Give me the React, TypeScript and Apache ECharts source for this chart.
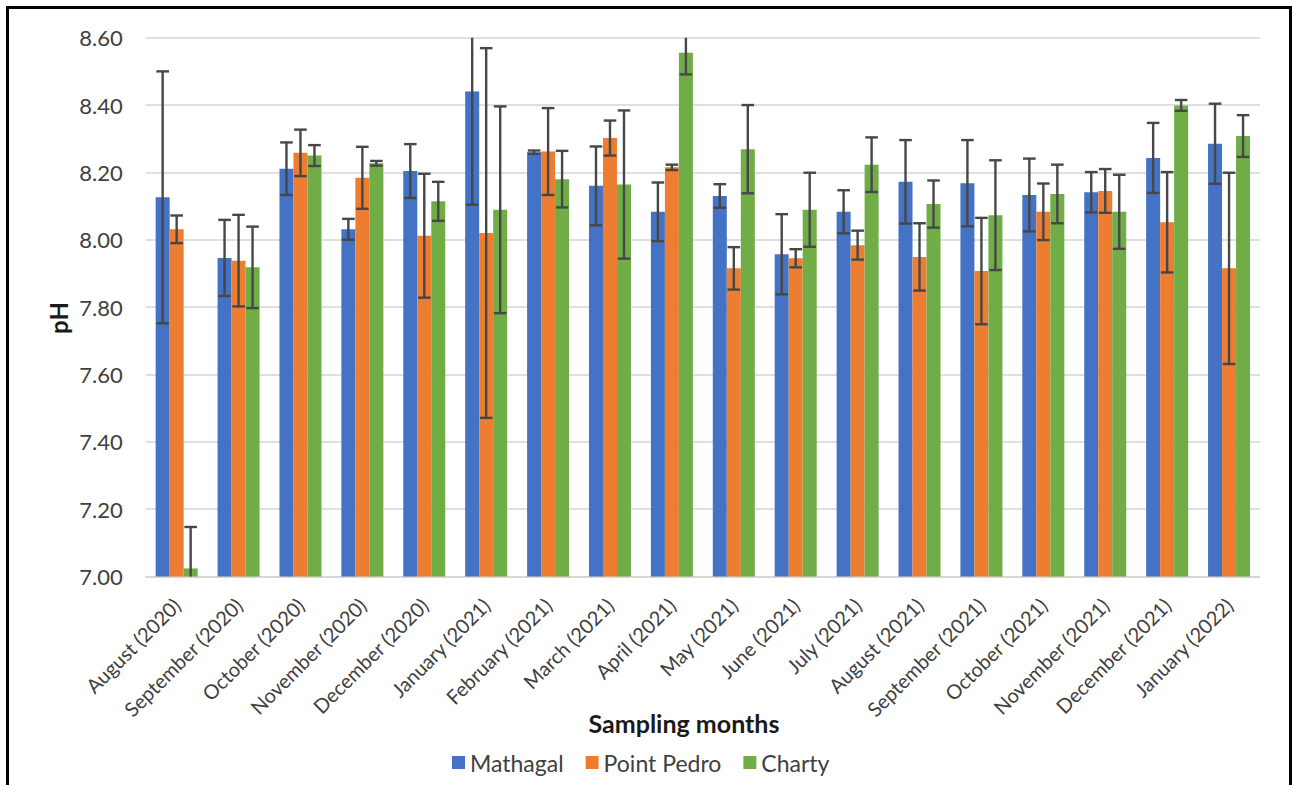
import React, { useEffect, useRef } from "react";
import * as echarts from "echarts";

const categories = [
  "August (2020)", "September (2020)", "October (2020)", "November (2020)", "December (2020)",
  "January (2021)", "February (2021)", "March (2021)", "April (2021)", "May (2021)", "June (2021)",
  "July (2021)", "August (2021)", "September (2021)", "October (2021)", "November (2021)",
  "December (2021)", "January (2022)",
];
const seriesNames = ["Mathagal", "Point Pedro", "Charty"];
const mathagal = [8.126, 7.946, 8.211, 8.031, 8.204, 8.44, 8.26, 8.16, 8.083, 8.13, 7.957, 8.083, 8.172, 8.168, 8.133, 8.141, 8.243, 8.285];
const mathagalErr = [0.374, 0.113, 0.078, 0.031, 0.08, 0.336, 0.005, 0.117, 0.087, 0.035, 0.119, 0.064, 0.124, 0.128, 0.108, 0.06, 0.104, 0.119];
const pointPedro = [8.031, 7.938, 8.258, 8.184, 8.012, 8.02, 8.262, 8.302, 8.215, 7.915, 7.945, 7.984, 7.949, 7.907, 8.083, 8.145, 8.052, 7.915];
const pointPedroErr = [0.041, 0.136, 0.069, 0.092, 0.184, 0.549, 0.129, 0.052, 0.008, 0.063, 0.027, 0.043, 0.1, 0.158, 0.084, 0.065, 0.149, 0.284];
const charty = [7.024, 7.918, 8.25, 8.227, 8.114, 8.089, 8.18, 8.164, 8.555, 8.269, 8.089, 8.223, 8.106, 8.073, 8.136, 8.083, 8.399, 8.308];
const chartyErr = [0.123, 0.121, 0.031, 0.007, 0.058, 0.307, 0.084, 0.22, 0.064, 0.131, 0.11, 0.081, 0.07, 0.163, 0.087, 0.11, 0.016, 0.062];
const colors = ["#4472C4", "#ED7D31", "#70AD47"];

const Y_MIN = 7.0;
const Y_MAX = 8.6;
const BAR_W = 14;
const FONT = "Lato, 'Open Sans', sans-serif";

export default function App() {
  const ref = useRef<HTMLDivElement>(null);
  useEffect(() => {
    document.body.style.margin = "0";
    const chart = echarts.init(ref.current!, null, { renderer: "svg" });
    const values = [mathagal, pointPedro, charty];
    const errs = [mathagalErr, pointPedroErr, chartyErr];

    const barSeries = values.map((v, i) => ({
      name: seriesNames[i],
      type: "bar",
      data: v,
      barWidth: BAR_W,
      barGap: "0%",
      itemStyle: { color: colors[i] },
      z: 2,
    }));

    const errSeries = values.map((v, i) => ({
      name: seriesNames[i] + " error",
      type: "custom",
      z: 5,
      data: v.map((m, k) => [k, m, errs[i][k]]),
      encode: { x: 0, y: 1 },
      renderItem: (params: any, api: any) => {
        const k = api.value(0);
        const m = api.value(1);
        const e = api.value(2);
        const hi = m + e;
        const lo = m - e;
        const off = (i - 1) * BAR_W;
        const pTop = api.coord([k, Math.min(hi, Y_MAX)]);
        const pBot = api.coord([k, Math.max(lo, Y_MIN)]);
        const x = pTop[0] + off;
        const style = { stroke: "#474747", lineWidth: 2.4 };
        const children: any[] = [
          { type: "line", shape: { x1: x, y1: pTop[1], x2: x, y2: pBot[1] }, style },
        ];
        const cap = 6.3;
        if (hi <= Y_MAX) children.push({ type: "line", shape: { x1: x - cap, y1: pTop[1], x2: x + cap, y2: pTop[1] }, style });
        if (lo >= Y_MIN) children.push({ type: "line", shape: { x1: x - cap, y1: pBot[1], x2: x + cap, y2: pBot[1] }, style });
        return { type: "group", children };
      },
      tooltip: { show: false },
    }));

    chart.setOption({
      animation: false,
      textStyle: { fontFamily: FONT },
      grid: { left: 145.7, right: 32, top: 37.7, bottom: 208.5, containLabel: false, outerBoundsMode: "none" },
      legend: {
        data: seriesNames,
        left: 452,
        top: 751,
        padding: 0,
        itemWidth: 13,
        itemHeight: 13,
        itemGap: 22,
        icon: "rect",
        textStyle: { fontSize: 23, color: "#404040", fontFamily: FONT },
      },
      xAxis: {
        type: "category",
        data: categories,
        axisLine: { show: true, lineStyle: { color: "#d4d4d4", width: 1.5 } },
        axisTick: { show: false },
        axisLabel: { rotate: 45, margin: 25, fontSize: 20, color: "#404040", fontFamily: FONT, interval: 0 },
      },
      yAxis: {
        type: "value",
        min: Y_MIN,
        max: Y_MAX,
        interval: 0.2,
        axisLine: { show: false },
        axisTick: { show: false },
        splitLine: { show: true, lineStyle: { color: "#d4d4d4", width: 1.5 } },
        axisLabel: {
          margin: 23,
          fontSize: 22,
          color: "#404040",
          fontFamily: FONT,
          formatter: (v: number) => v.toFixed(2),
        },
      },
      graphic: [
        {
          type: "rect",
          shape: { x: 7.5, y: 7.5, width: 1283, height: 800 },
          style: { fill: "none", stroke: "#000", lineWidth: 3 },
          silent: true,
        },
        {
          type: "text",
          x: 684,
          y: 723,
          style: {
            text: "Sampling months",
            font: `bold 25px ${FONT}`,
            fill: "#1a1a1a",
            textAlign: "center",
            textVerticalAlign: "middle",
          },
        },
        {
          type: "text",
          x: 58,
          y: 318,
          rotation: Math.PI / 2,
          style: {
            text: "pH",
            font: `bold 24px ${FONT}`,
            fill: "#1a1a1a",
            textAlign: "center",
            textVerticalAlign: "middle",
          },
        },
      ],
      series: [...barSeries, ...errSeries],
    });
    return () => chart.dispose();
  }, []);
  return <div ref={ref} style={{ position: "fixed", left: 0, top: 0, width: 1292, height: 785, background: "#fff" }} />;
}
